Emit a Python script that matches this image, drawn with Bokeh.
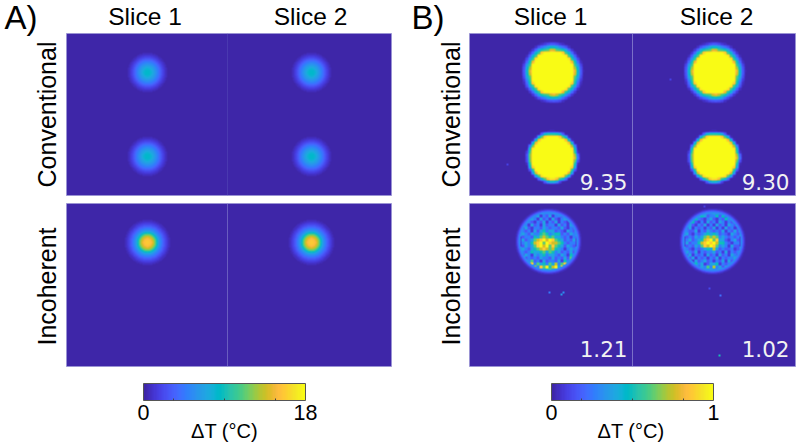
import math
import numpy as np
from bokeh.core.properties import value
from bokeh.embed import file_html
from bokeh.models import ColorBar, FixedTicker, LinearColorMapper, Range1d
from bokeh.plotting import figure
from bokeh.resources import INLINE

# ---------- data ----------
column_titles = ["Slice 1", "Slice 2"]
row_titles = ["Conventional", "Incoherent"]
group_titles = ["A)", "B)"]
scale_a_max = 18
scale_b_max = 1
colorbar_title = "ΔT (°C)"
peak_labels_conv = ["9.35", "9.30"]
peak_labels_inc = ["1.21", "1.02"]

# radial profiles: distance from spot centre (px) and value as a fraction of the scale
a_conv_r = [0, 3, 6, 9, 12, 15, 18, 21]
a_conv_v = [0.47, 0.45, 0.38, 0.30, 0.22, 0.12, 0.05, 0.0]
a_inc_r = [0, 3, 6, 8, 10, 12, 15, 18, 21, 24]
a_inc_v = [0.88, 0.85, 0.75, 0.62, 0.45, 0.33, 0.22, 0.12, 0.05, 0.0]
b_top_r = [0, 21, 22, 23, 25, 26, 27, 28.5, 30, 32]
b_top_v = [1, 1, 0.9, 0.6, 0.5, 0.38, 0.25, 0.15, 0.05, 0.0]
b_low_r = [0, 21, 22, 23, 24, 25, 26, 27]
b_low_v = [1, 1, 0.85, 0.55, 0.48, 0.3, 0.05, 0.0]
# rim wobble of the discs, px, per 15 degrees
rim_top = [0.2, -0.1, 0.3, 0.0, -0.2, 0.4, 0.1, -0.2, 0.2, -0.1, 0.3, -0.2,
           0.1, 0.3, -0.2, 0.1, 0.4, -0.1, 0.2, -0.2, 0.3, 0.0, -0.2, 0.3]
rim_low = [0.3, -0.1, 0.2, 0.4, 0.0, -0.2, 0.3, 0.1, -0.1, 0.4, 0.1, 0.2,
           -0.2, 0.3, 0.0, -0.2, 0.3, 0.4, -0.1, 0.1, 0.3, -0.2, 0.2, 0.0]
# glow around the incoherent discs of group B
b_glow_r = [28, 29, 30.5, 32, 34]
b_glow_v = [0.33, 0.30, 0.18, 0.06, 0.0]
# what each digit of the cell tables below stands for, as a fraction of the scale
cell_levels = [0.0, 0.08, 0.17, 0.27, 0.38, 0.5, 0.62, 0.75, 0.88, 1.0]

# incoherent spots of group B, cell values 0-9
b_inc_slice1 = [
    "0000000011111100000000",
    "0000001223333221000000",
    "0000123413241332100000",
    "0001343142314213431000",
    "0012321324132413213100",
    "0013142314233142314100",
    "0124213324323324213210",
    "0132314245344232143210",
    "0143243356534552324310",
    "0123325467656443231320",
    "0142346789798654232410",
    "0134357896987765323310",
    "0124346897968654243210",
    "0143245678767543134310",
    "0132354456465342324210",
    "0124314345344324315310",
    "0142323243324232426310",
    "0014362314233241537100",
    "0017483645364736842100",
    "0001497386957948721000",
    "0000123454564432100000",
    "0000001122211100000000",
]
b_inc_slice2 = [
    "0000000011111100000000",
    "0000001233343321000000",
    "0000124542335252100000",
    "0001353213421325331000",
    "0016521314231431323100",
    "0034213241314231432100",
    "0124132313241314231210",
    "0132241324323241324210",
    "0142132345454232143210",
    "0123243467676343232310",
    "0134234578968442134210",
    "0142335789897553213310",
    "0123243687986343142210",
    "0132132345474232231210",
    "0143241323342314132310",
    "0124132314231423143210",
    "0132413231324132334210",
    "0013142342313241424100",
    "0012353412445132342100",
    "0001242436373424321000",
    "0000122343433221000000",
    "0000001112221100000000",
]
# isolated bright pixels of group B: x, y (picture px), fraction of scale
stray_x = [506, 669, 548, 560, 562, 708, 719, 718, 703]
stray_y = [163, 78, 291, 293, 291, 287, 294, 354, 205]
stray_v = [0.10, 0.10, 0.25, 0.35, 0.30, 0.12, 0.22, 0.50, 0.10]

parula_rgb = [
    (0.2422, 0.1504, 0.6603), (0.2504, 0.1650, 0.7076), (0.2578, 0.1818, 0.7511), (0.2647, 0.1978, 0.7952),
    (0.2706, 0.2147, 0.8364), (0.2751, 0.2342, 0.8710), (0.2783, 0.2559, 0.8991), (0.2803, 0.2782, 0.9221),
    (0.2813, 0.3006, 0.9414), (0.2810, 0.3228, 0.9579), (0.2795, 0.3447, 0.9717), (0.2760, 0.3667, 0.9829),
    (0.2699, 0.3892, 0.9906), (0.2602, 0.4123, 0.9952), (0.2440, 0.4358, 0.9988), (0.2206, 0.4603, 0.9973),
    (0.1963, 0.4847, 0.9892), (0.1834, 0.5074, 0.9798), (0.1786, 0.5289, 0.9682), (0.1764, 0.5499, 0.9520),
    (0.1687, 0.5703, 0.9359), (0.1540, 0.5902, 0.9218), (0.1460, 0.6091, 0.9079), (0.1380, 0.6276, 0.8973),
    (0.1248, 0.6459, 0.8883), (0.1113, 0.6635, 0.8763), (0.0952, 0.6798, 0.8598), (0.0689, 0.6948, 0.8394),
    (0.0297, 0.7082, 0.8163), (0.0036, 0.7203, 0.7917), (0.0067, 0.7312, 0.7660), (0.0433, 0.7411, 0.7394),
    (0.0964, 0.7500, 0.7120), (0.1408, 0.7584, 0.6842), (0.1717, 0.7670, 0.6554), (0.1938, 0.7758, 0.6251),
    (0.2161, 0.7843, 0.5923), (0.2470, 0.7918, 0.5567), (0.2906, 0.7973, 0.5188), (0.3406, 0.8008, 0.4789),
    (0.3909, 0.8029, 0.4354), (0.4456, 0.8024, 0.3909), (0.5044, 0.7993, 0.3480), (0.5616, 0.7942, 0.3045),
    (0.6174, 0.7876, 0.2612), (0.6720, 0.7793, 0.2227), (0.7242, 0.7698, 0.1910), (0.7738, 0.7598, 0.1646),
    (0.8203, 0.7498, 0.1535), (0.8634, 0.7406, 0.1596), (0.9035, 0.7330, 0.1774), (0.9393, 0.7288, 0.2100),
    (0.9728, 0.7298, 0.2394), (0.9956, 0.7434, 0.2371), (0.9970, 0.7659, 0.2199), (0.9952, 0.7893, 0.2028),
    (0.9892, 0.8136, 0.1885), (0.9786, 0.8386, 0.1766), (0.9676, 0.8639, 0.1643), (0.9610, 0.8890, 0.1537),
    (0.9597, 0.9135, 0.1423), (0.9628, 0.9373, 0.1265), (0.9691, 0.9606, 0.1064), (0.9769, 0.9839, 0.0805),
]

# ---------- layout (picture pixels) ----------
W, H = 800, 446
ROW_Y = [(33, 195), (203, 366)]
A_X = [(66, 227), (227, 391)]
B_X = [(469, 632), (632, 795)]
CELL = 3
BASELINE_SHIFT = 0.33  # the SVG text sits this many em below the given baseline


def Y(y):
    return H - y


palette = ["#%02x%02x%02x" % tuple(int(round(c * 255)) for c in rgb) for rgb in parula_rgb]
mapper = LinearColorMapper(palette=palette, low=0, high=1)

p = figure(width=W, height=H, x_range=Range1d(0, W), y_range=Range1d(0, H),
           toolbar_location=None, output_backend="svg", min_border=0, outline_line_color=None,
           background_fill_color="white", border_fill_color="white")
p.axis.visible = False
p.grid.visible = False


def soften(a, keep):
    pad = np.pad(a, 1, mode="edge")
    box = sum(pad[1 + j:a.shape[0] + 1 + j, 1 + i:a.shape[1] + 1 + i]
              for j in (-1, 0, 1) for i in (-1, 0, 1)) / 9
    return keep * a + (1 - keep) * box


def radial_layer(x0, x1, y0, y1, cx, cy, rs, vs, rim=None, cell=None):
    xx, yy = np.meshgrid(np.arange(x0, x1) + 0.5, np.arange(y0, y1) + 0.5)
    if cell:
        xx = np.floor(xx / cell) * cell + cell / 2
        yy = np.floor(yy / cell) * cell + cell / 2
    dx, dy = xx - cx, yy - cy
    r = np.hypot(dx, dy)
    if rim is not None:
        angle = np.mod(np.arctan2(dy, dx), 2 * math.pi)
        a = np.linspace(0, 2 * math.pi, len(rim) + 1)
        r = r - np.interp(angle, a, list(rim) + [rim[0]])
    return np.interp(r, rs, vs)


def grid_layer(x0, x1, y0, y1, gx, gy, rows):
    out = np.zeros((y1 - y0, x1 - x0))
    g = np.array([[cell_levels[int(c)] for c in row.ljust(22, "0")[:22]] for row in rows])
    big = soften(np.kron(g, np.ones((CELL, CELL))), 0.8)
    sy, sx = gy - y0, gx - x0
    out[sy:sy + big.shape[0], sx:sx + big.shape[1]] = big
    # inside the disc the cells show, outside only the glow
    xx, yy = np.meshgrid(np.arange(x0, x1) + 0.5, np.arange(y0, y1) + 0.5)
    r = np.hypot(xx - (gx + 33), yy - (gy + 33))
    return np.where(r < b_glow_r[0], np.maximum(out, 0.05), np.interp(r, b_glow_r, b_glow_v))


def draw(arr, x0, x1, y0, y1):
    p.image(image=[np.flipud(arr)], x=x0, y=Y(y1), dw=x1 - x0, dh=y1 - y0, color_mapper=mapper)


def strays(arr, x0, x1, y0, y1):
    for x, y, v in zip(stray_x, stray_y, stray_v):
        if x0 <= x < x1 - 1 and y0 <= y < y1 - 1:
            arr[y - y0:y - y0 + 2, x - x0:x - x0 + 2] = np.maximum(arr[y - y0:y - y0 + 2, x - x0:x - x0 + 2], v)


# group A
a_cx = [147, 311]
for (x0, x1), cx in zip(A_X, a_cx):
    y0, y1 = ROW_Y[0]
    arr = radial_layer(x0, x1, y0, y1, cx, 72, a_conv_r, a_conv_v) + radial_layer(x0, x1, y0, y1, cx, 156, a_conv_r, a_conv_v)
    draw(arr, x0, x1, y0, y1)
    y0, y1 = ROW_Y[1]
    arr = radial_layer(x0, x1, y0, y1, cx, 242, a_inc_r, a_inc_v)
    draw(arr, x0, x1, y0, y1)

# group B
b_cx = [552, 714]
b_grid_x = [515, 679]
b_grids = [b_inc_slice1, b_inc_slice2]
for (x0, x1), cx, gx, rows in zip(B_X, b_cx, b_grid_x, b_grids):
    y0, y1 = ROW_Y[0]
    arr = radial_layer(x0, x1, y0, y1, cx, 72, b_top_r, b_top_v, rim_top, CELL) + radial_layer(x0, x1, y0, y1, cx, 157, b_low_r, b_low_v, rim_low, CELL)
    arr = soften(arr, 0.4)
    strays(arr, x0, x1, y0, y1)
    draw(arr, x0, x1, y0, y1)
    y0, y1 = ROW_Y[1]
    arr = grid_layer(x0, x1, y0, y1, gx, 208, rows)
    strays(arr, x0, x1, y0, y1)
    draw(arr, x0, x1, y0, y1)

# panel edges and dividers
for xs, col in ((A_X, ["#4a39b0", "#6a5dbf"]), (B_X, ["#7b70c8", "#7b70c8"])):
    for (y0, y1), c in zip(ROW_Y, col):
        p.segment(x0=[xs[0][1]], y0=[Y(y0)], x1=[xs[0][1]], y1=[Y(y1)], line_color=c, line_width=1)
        p.quad(left=[xs[0][0]], right=[xs[1][1]], top=[Y(y0)], bottom=[Y(y1)], fill_color=None,
               line_color="#9a94d4", line_width=1, line_alpha=0.8)

# texts
SANS = value("Liberation Sans")
DEJA = value("DejaVu Sans")


def label(x, y, s, size, align="center", rotated=False, color="black", font=SANS):
    shift = BASELINE_SHIFT * size
    px, py = (x - shift, y) if rotated else (x, y - shift)
    p.text(x=[px], y=[Y(py)], text=[s], text_font=font, text_font_size=f"{size}px", text_align=align,
           text_baseline="alphabetic", angle=math.pi / 2 if rotated else 0.0, text_color=color)


label(4, 28, group_titles[0], 33, "left")
label(411, 28, group_titles[1], 33, "left")
for x, s in zip([144.5, 310, 550, 716], column_titles * 2):
    label(x, 24, s, 24.5)
for x in (55, 459):
    label(x, 114, row_titles[0], 25, rotated=True)
    label(x, 286, row_titles[1], 25, rotated=True)
for x, s in zip((627, 789), peak_labels_conv):
    label(x, 189, s, 21.5, "right", color="#f2f2f2", font=DEJA)
for x, s in zip((627, 789), peak_labels_inc):
    label(x, 356, s, 21.5, "right", color="#f2f2f2", font=DEJA)
label(224, 437, colorbar_title, 20)
label(630.5, 437, colorbar_title, 20)

# colour bars
for vmax, x_left in ((scale_a_max, 143), (scale_b_max, 551)):
    m = LinearColorMapper(palette=palette, low=0, high=vmax)
    ticker = FixedTicker(ticks=[0, vmax], minor_ticks=[0.185 * vmax, 0.5 * vmax, 0.815 * vmax])
    cb = ColorBar(color_mapper=m, ticker=ticker, orientation="horizontal", width=162, height=17,
                  location=(x_left, 24), padding=0, margin=0,
                  background_fill_color=None, border_line_color=None,
                  bar_line_color="#555555", bar_line_width=1,
                  major_tick_line_color=None, minor_tick_line_color="#444444",
                  major_tick_in=0, minor_tick_in=2, minor_tick_out=0,
                  major_label_text_font="Liberation Sans", major_label_text_font_size="21.5px",
                  major_label_text_color="black", label_standoff=4)
    p.add_layout(cb, "center")

open("out.html", "w").write(file_html(p, INLINE))
